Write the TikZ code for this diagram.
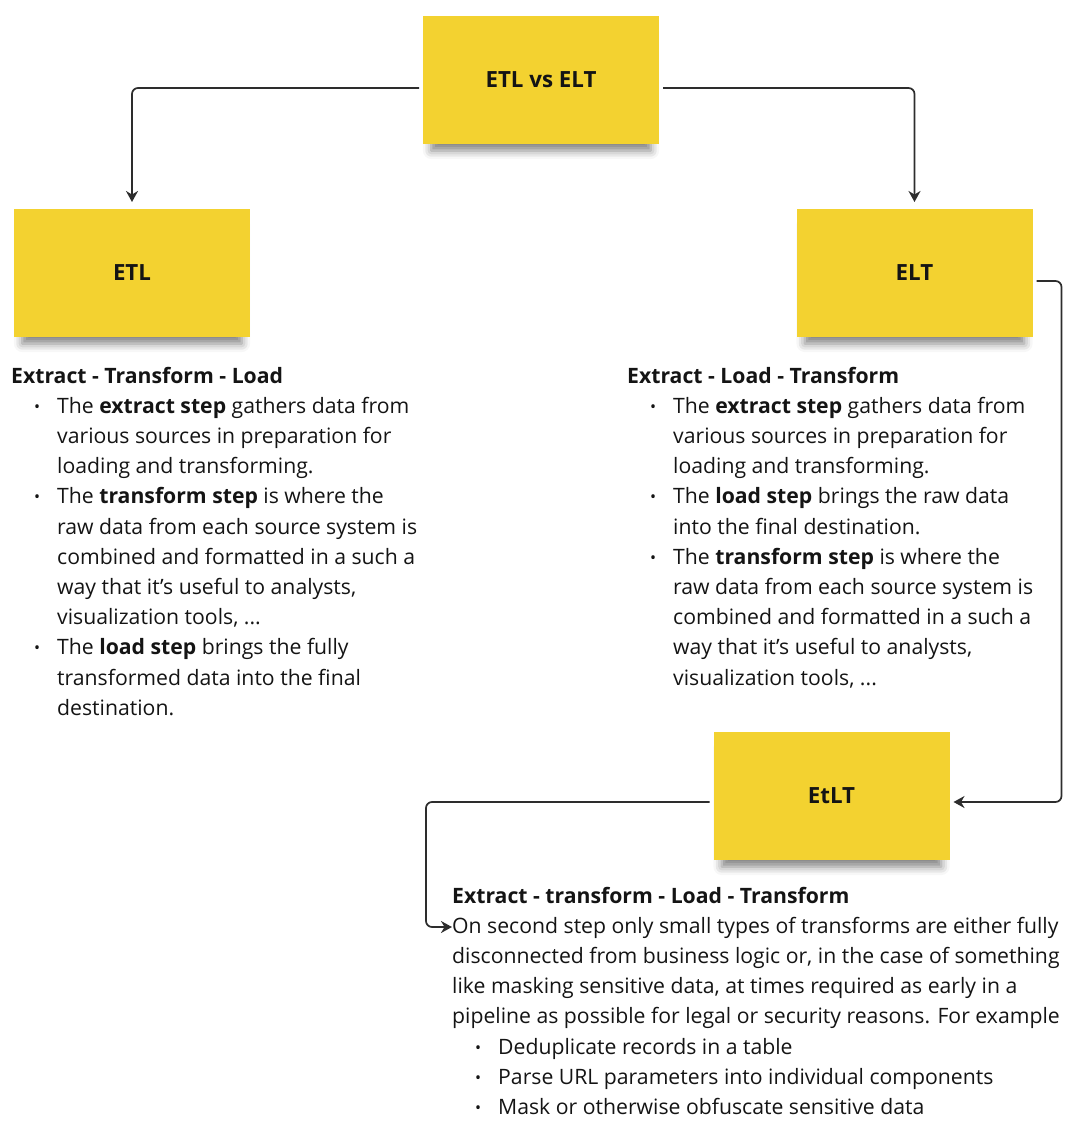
\documentclass[tikz,border=0pt]{standalone}
\usepackage{fontspec}
\setmainfont{Open Sans}
\usetikzlibrary{shadows.blur,arrows.meta,calc}
\definecolor{sticky}{RGB}{243,210,48}
\definecolor{linec}{RGB}{45,45,45}
\definecolor{txtc}{RGB}{20,20,20}
\newcommand\smbul{\makebox[46pt][l]{\hspace{23pt}\raisebox{1pt}{\fontsize{16}{16}\selectfont •}}}
\newcommand\bline[1]{\hbox{\smbul#1}}
\newcommand\contline[1]{\hbox{\hspace{46pt}#1}}
\newcommand\pline[1]{\hbox{#1}}
\newcommand\blockstart{\baselineskip=30.2pt\lineskiplimit=-50pt\lineskip=0pt}
\tikzset{
  note/.style={fill=sticky, minimum width=236pt, minimum height=128pt, inner sep=0pt, outer sep=4pt,
    font=\fontsize{22.3}{26}\selectfont\bfseries, text=txtc,
    blur shadow={shadow xshift=0pt, shadow yshift=-12pt, shadow scale=0.93, shadow blur radius=9pt, shadow opacity=50}},
  conn/.style={draw=linec, line width=1.7pt, rounded corners=6pt, -{Stealth[length=11pt,width=12pt,inset=3.5pt]}},
  body/.style={anchor=base west, inner sep=0pt, text=txtc, font=\fontsize{21.2}{30.2}\selectfont}
}
\begin{document}
\begin{tikzpicture}[x=1pt,y=-1pt]
\useasboundingbox (0,0) rectangle (1080,1122);
\node[note] (top) at (541,80) {ETL vs ELT};
\node[note] (etl) at (132,273) {ETL};
\node[note] (elt) at (914.5,273) {ELT};
\node[note] (etlt) at (831.5,796) {EtLT};

\node[body] (etltxt) at (11,383) {\vtop{\blockstart
  \pline{\bfseries Extract - Transform - Load}
  \bline{The \textbf{extract step} gathers data from}
  \contline{various sources in preparation for}
  \contline{loading and transforming.}
  \bline{The \textbf{transform step} is where the}
  \contline{raw data from each source system is}
  \contline{combined and formatted in a such a}
  \contline{way that it’s useful to analysts,}
  \contline{visualization tools, ...}
  \bline{The \textbf{load step} brings the fully}
  \contline{transformed data into the final}
  \contline{destination.}}};

\node[body] (elttxt) at (627,383) {\vtop{\blockstart
  \pline{\bfseries Extract - Load - Transform}
  \bline{The \textbf{extract step} gathers data from}
  \contline{various sources in preparation for}
  \contline{loading and transforming.}
  \bline{The \textbf{load step} brings the raw data}
  \contline{into the final destination.}
  \bline{The \textbf{transform step} is where the}
  \contline{raw data from each source system is}
  \contline{combined and formatted in a such a}
  \contline{way that it’s useful to analysts,}
  \contline{visualization tools, ...}}};

\node[body] (etlttxt) at (452,903) {\vtop{\blockstart
  \pline{\bfseries Extract - transform - Load - Transform}
  \pline{On second step only small types of transforms are either fully}
  \pline{disconnected from business logic or, in the case of something}
  \pline{like masking sensitive data, at times required as early in a}
  \pline{pipeline as possible for legal or security reasons. For example}
  \bline{Deduplicate records in a table}
  \bline{Parse URL parameters into individual components}
  \bline{Mask or otherwise obfuscate sensitive data}}};

\coordinate (onpt) at (452,927);

\draw[conn, shorten >=3pt] ([yshift=-8pt]top.west) -| (etl.north);
\draw[conn, shorten >=3pt] ([yshift=-8pt]top.east) -| (elt.north);
\draw[conn] ([yshift=-8pt]elt.east) -- ++(25,0) |- ([yshift=-6pt]etlt.east);
\draw[conn] ([yshift=-6pt]etlt.west) -| ([xshift=-26pt]onpt) -- (onpt);
\end{tikzpicture}
\end{document}
